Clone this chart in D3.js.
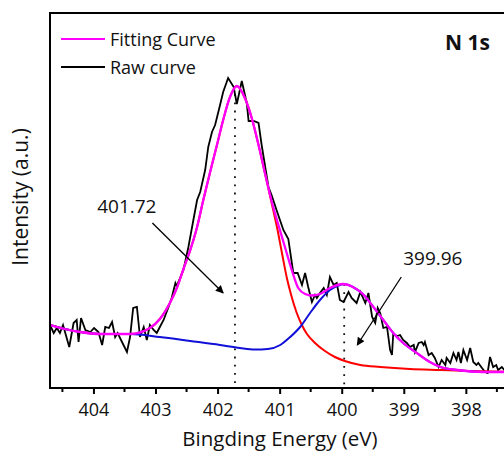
<!DOCTYPE html>
<html>
<head>
<meta charset="utf-8">
<script src="https://cdn.jsdelivr.net/npm/d3@7"></script>
<style>
  body { margin: 0; background: #fff; }
  text { font-family: "Open Sans", sans-serif; fill: #111; }
</style>
</head>
<body>
<div id="wrapper"></div>
<script>
// raw spectrum [binding energy (eV), intensity (a.u.)]
const rawCurve = [
  [404.70,63],[404.64,55],[404.59,60],[404.54,55],[404.49,63],[404.39,41],[404.32,65],[404.27,68],
  [404.24,46],[404.20,70],[404.13,58],[404.05,56],[403.99,60],[403.92,56],[403.86,43],[403.81,61],
  [403.75,60],[403.70,66],[403.65,51],[403.61,55],[403.54,46],[403.46,36],[403.41,51],[403.36,80],
  [403.30,81],[403.25,51],[403.19,61],[403.14,48],[403.09,63],[403.03,58],[402.98,55],[402.93,61],
  [402.87,68],[402.79,81],[402.74,90],[402.68,105],[402.66,102],[402.55,118],[402.47,141],[402.39,168],
  [402.33,188],[402.28,196],[402.20,218],[402.15,241],[402.09,256],[402.04,263],[401.96,283],[401.91,296],
  [401.83,310],[401.74,301],[401.69,284],[401.61,307],[401.53,285],[401.50,267],[401.42,267],[401.34,265],
  [401.29,243],[401.18,201],[401.13,193],[401.05,178],[400.94,158],[400.86,149],[400.78,115],[400.71,115],
  [400.64,103],[400.59,115],[400.54,101],[400.48,86],[400.43,93],[400.40,90],[400.35,95],[400.29,100],
  [400.24,93],[400.19,111],[400.13,103],[400.08,105],[400.03,88],[399.97,86],[399.89,96],[399.84,90],
  [399.76,85],[399.70,96],[399.62,85],[399.57,95],[399.51,71],[399.46,65],[399.42,80],[399.38,75],
  [399.33,60],[399.27,61],[399.22,38],[399.19,33],[399.17,54],[399.11,52],[399.06,53],[399.01,48],
  [398.95,45],[398.90,41],[398.84,43],[398.82,36],[398.76,45],[398.71,46],[398.68,43],[398.66,46],
  [398.60,33],[398.55,35],[398.50,30],[398.44,21],[398.39,28],[398.33,23],[398.31,30],[398.25,25],
  [398.20,35],[398.15,28],[398.12,36],[398.08,25],[398.04,38],[397.98,28],[397.93,40],[397.88,26],
  [397.83,23],[397.80,25],[397.74,20],[397.69,16],[397.65,15],[397.61,31],[397.56,21],[397.51,23],
  [397.48,18],[397.42,21],[397.38,18],[397.29,20]
];

// envelope of the fit
const fittingCurve = [
  [404.70,63],[404.46,59],[404.21,56],[403.89,54],[403.41,54],[403.09,60],[402.93,69],[402.76,86],
  [402.65,101],[402.55,119],[402.44,138],[402.33,161],[402.23,188],[402.12,216],[402.01,243],[401.91,268],
  [401.80,291],[401.69,302],[401.56,290],[401.45,270],[401.34,243],[401.23,213],[401.13,187],[401.02,163],
  [400.91,140],[400.80,117],[400.70,100],[400.59,94],[400.48,92.5],[400.35,94],[400.19,100],[399.98,104],
  [399.82,101],[399.66,94],[399.49,81],[399.33,68],[399.17,55],[399.01,45],[398.79,35],[398.58,26],
  [398.41,21],[398.14,18],[397.72,16],[397.13,16]
];

// component at 401.72 eV (red)
const peakHigh = [
  [404.70,63],[404.46,59],[404.21,56],[403.89,54],[403.41,54],[403.09,60],[402.93,69],[402.76,86],
  [402.65,101],[402.55,119],[402.44,138],[402.33,161],[402.23,188],[402.12,216],[402.01,243],[401.91,268],
  [401.80,291],[401.69,302],[401.56,290],[401.45,270],[401.34,243],[401.23,213],[401.14,188],[401.04,160],
  [400.96,134],[400.88,109],[400.81,92],[400.73,76],[400.65,64],[400.56,54],[400.43,45],[400.27,37],
  [400.11,31],[399.95,27],[399.70,23],[399.38,21],[398.90,19],[398.41,18],[397.93,17],[397.13,16]
];

// component at 399.96 eV (blue)
const peakLow = [
  [404.70,63],[404.46,59],[404.21,56],[403.89,54],[403.41,54],[402.93,51],[402.44,47],[401.96,43],
  [401.64,40],[401.40,38.5],[401.19,39],[400.99,43],[400.83,51],[400.67,61],[400.51,75],[400.35,88],
  [400.19,98],[400.03,103],[399.96,104],[399.82,101],[399.66,94],[399.49,81],[399.33,68],[399.17,55],
  [399.01,45],[398.79,35],[398.58,26],[398.41,21],[398.14,18],[397.72,16],[397.13,16]
];

const xTicks = [404, 403, 402, 401, 400, 399, 398];
const xMinorTicks = [404.5, 403.5, 402.5, 401.5, 400.5, 399.5, 398.5, 397.5];

const peakMarks = [
  { label: "401.72", energy: 401.72, top: 302, textAt: [403.94, 175], arrow: [[403.05, 165], [401.91, 95]] },
  { label: "399.96", energy: 399.96, top: 104, textAt: [399.01, 123], arrow: [[399.04, 111], [399.75, 43]] }
];

const legendItems = [
  { name: "Fitting Curve", color: "#ff00ff" },
  { name: "Raw curve", color: "#000000" }
];

const width = 504, height = 453;
const margin = { top: 13, left: 50 };
const plotRight = 515.5, plotBottom = 388;

const svg = d3.select("#wrapper").append("svg")
  .attr("width", width)
  .attr("height", height);

const xScale = d3.scaleLinear()
  .domain([404.7, 397.2])
  .range([margin.left, plotRight]);

const yScale = d3.scaleLinear()
  .domain([0, 375])
  .range([plotBottom, margin.top]);

svg.append("defs").append("clipPath").attr("id", "plotclip")
  .append("rect")
    .attr("x", margin.left).attr("y", margin.top)
    .attr("width", plotRight - margin.left).attr("height", plotBottom - margin.top);

svg.select("defs").append("marker")
  .attr("id", "arrowhead")
  .attr("viewBox", "0 0 10 10")
  .attr("refX", 9).attr("refY", 5)
  .attr("markerWidth", 10).attr("markerHeight", 8)
  .attr("markerUnits", "userSpaceOnUse")
  .attr("orient", "auto")
  .append("path")
    .attr("d", "M0,0 L10,5 L0,10 z")
    .attr("fill", "#000");

const plot = svg.append("g").attr("clip-path", "url(#plotclip)");

// dotted guides at the peak centres
plot.selectAll(".guide")
  .data(peakMarks)
  .join("line")
    .attr("class", "guide")
    .attr("x1", d => xScale(d.energy)).attr("x2", d => xScale(d.energy))
    .attr("y1", d => yScale(d.top)).attr("y2", plotBottom)
    .attr("stroke", "#111")
    .attr("stroke-width", 1.8)
    .attr("stroke-dasharray", "1.8,6.4");

const smoothLine = d3.line()
  .x(d => xScale(d[0]))
  .y(d => yScale(d[1]))
  .curve(d3.curveMonotoneX);

const rawLine = d3.line()
  .x(d => xScale(d[0]))
  .y(d => yScale(d[1]));

plot.append("path")
  .attr("d", rawLine(rawCurve))
  .attr("fill", "none")
  .attr("stroke", "#000")
  .attr("stroke-width", 1.8)
  .attr("stroke-linejoin", "miter");

plot.append("path")
  .attr("d", smoothLine(peakHigh))
  .attr("fill", "none")
  .attr("stroke", "#ff0000")
  .attr("stroke-width", 2);

plot.append("path")
  .attr("d", smoothLine(peakLow))
  .attr("fill", "none")
  .attr("stroke", "#1010d8")
  .attr("stroke-width", 2);

plot.append("path")
  .attr("d", smoothLine(fittingCurve))
  .attr("fill", "none")
  .attr("stroke", "#ff00ff")
  .attr("stroke-width", 2.3);

// frame
svg.append("rect")
  .attr("x", margin.left).attr("y", margin.top)
  .attr("width", plotRight - margin.left).attr("height", plotBottom - margin.top)
  .attr("fill", "none")
  .attr("stroke", "#000")
  .attr("stroke-width", 2);

// bottom axis
const xAxis = svg.append("g")
  .attr("transform", `translate(0,${plotBottom})`)
  .call(d3.axisBottom(xScale).tickValues(xTicks).tickFormat(d3.format("d")).tickSize(6).tickPadding(9));
xAxis.select(".domain").remove();
xAxis.selectAll(".tick line").attr("stroke-width", 2);
xAxis.selectAll(".tick text")
  .style("font-family", "'Open Sans', sans-serif")
  .style("font-size", "18px")
  .attr("fill", "#111");

svg.append("g")
  .attr("transform", `translate(0,${plotBottom})`)
  .selectAll("line")
  .data(xMinorTicks)
  .join("line")
    .attr("x1", d => xScale(d)).attr("x2", d => xScale(d))
    .attr("y1", 0).attr("y2", 4)
    .attr("stroke", "#000")
    .attr("stroke-width", 2);

svg.append("text")
  .attr("x", 280).attr("y", 446)
  .attr("text-anchor", "middle")
  .style("font-size", "20.5px")
  .text("Bingding Energy (eV)");

svg.append("text")
  .attr("transform", "translate(28,197) rotate(-90)")
  .attr("text-anchor", "middle")
  .style("font-size", "21px")
  .text("Intensity (a.u.)");

svg.append("text")
  .attr("x", 445).attr("y", 50)
  .style("font-size", "21px")
  .style("font-weight", "bold")
  .text("N 1s");

// legend
const legend = svg.append("g");
legendItems.forEach((item, i) => {
  const y = 39 + i * 28;
  legend.append("line")
    .attr("x1", 61).attr("x2", 105).attr("y1", y).attr("y2", y)
    .attr("stroke", item.color).attr("stroke-width", 2);
  legend.append("text")
    .attr("x", 110).attr("y", y + 6.5)
    .style("font-size", "18px")
    .text(item.name);
});

// peak annotations
peakMarks.forEach(d => {
  svg.append("text")
    .attr("x", xScale(d.textAt[0])).attr("y", yScale(d.textAt[1]))
    .style("font-size", "19px")
    .text(d.label);
  svg.append("line")
    .attr("x1", xScale(d.arrow[0][0])).attr("y1", yScale(d.arrow[0][1]))
    .attr("x2", xScale(d.arrow[1][0])).attr("y2", yScale(d.arrow[1][1]))
    .attr("stroke", "#000").attr("stroke-width", 1.3)
    .attr("marker-end", "url(#arrowhead)");
});
</script>
</body>
</html>
